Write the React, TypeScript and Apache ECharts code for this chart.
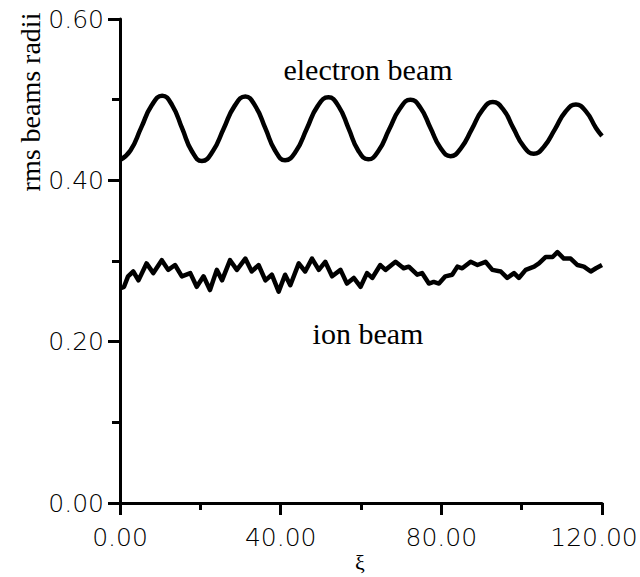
import React, { useEffect, useRef } from "react";
import * as echarts from "echarts";

// electron beam rms radius
const elecX = [0, 2.6, 5.25, 7.9, 10.5, 13.0, 15.5, 17.9, 20.4, 23.1, 25.8, 28.5, 31.2, 33.7, 36.2, 38.6, 41.1, 43.8, 46.5, 49.2, 51.9, 54.4, 56.9, 59.3, 61.8, 64.4, 67.0, 69.7, 72.3, 74.8, 77.3, 79.8, 82.3, 84.9, 87.6, 90.2, 92.8, 95.4, 97.9, 100.5, 103.0, 105.6, 108.3, 110.9, 113.5, 116.0, 118.5, 120];
const elecY = [0.425, 0.437, 0.465, 0.493, 0.505, 0.493, 0.464, 0.436, 0.424, 0.436, 0.464, 0.492, 0.504, 0.492, 0.4645, 0.437, 0.425, 0.436, 0.464, 0.492, 0.503, 0.492, 0.4645, 0.437, 0.426, 0.437, 0.463, 0.489, 0.5, 0.49, 0.465, 0.44, 0.43, 0.44, 0.4635, 0.487, 0.497, 0.488, 0.465, 0.442, 0.433, 0.442, 0.4635, 0.485, 0.494, 0.4855, 0.465, 0.455];

// ion beam rms radius
const ionX = [0, 1.0, 2.0, 3.3, 4.6, 6.6, 8.3, 10.4, 12.0, 13.7, 15.4, 17.5, 19.1, 20.8, 22.4, 24.1, 25.4, 27.4, 29.1, 31.2, 32.8, 34.5, 36.2, 37.8, 39.5, 41.1, 42.4, 44.5, 46.1, 47.8, 49.5, 51.1, 52.8, 54.9, 56.5, 58.2, 59.9, 61.5, 62.8, 64.8, 66.1, 68.6, 70.6, 71.9, 74.0, 75.2, 76.9, 78.1, 79.4, 81.0, 82.7, 84.0, 85.2, 87.3, 89.0, 91.0, 92.7, 94.8, 96.4, 98.1, 99.3, 101.0, 103.1, 104.3, 106.0, 107.7, 108.9, 110.5, 112.2, 113.9, 115.5, 117.2, 118.5, 120.0];
const ionY = [0.266, 0.268, 0.281, 0.287, 0.276, 0.297, 0.285, 0.301, 0.289, 0.295, 0.281, 0.285, 0.268, 0.281, 0.264, 0.289, 0.276, 0.301, 0.289, 0.303, 0.287, 0.295, 0.276, 0.283, 0.262, 0.283, 0.27, 0.297, 0.287, 0.303, 0.289, 0.299, 0.281, 0.289, 0.272, 0.279, 0.268, 0.285, 0.279, 0.295, 0.289, 0.299, 0.291, 0.293, 0.283, 0.285, 0.272, 0.274, 0.272, 0.281, 0.283, 0.293, 0.291, 0.299, 0.295, 0.299, 0.289, 0.287, 0.279, 0.285, 0.279, 0.289, 0.293, 0.297, 0.305, 0.305, 0.311, 0.303, 0.303, 0.295, 0.293, 0.287, 0.291, 0.295];

const xMin = 0;
const xMax = 120;
const xTickInterval = 40;
const yTickInterval = 0.2;
const yAxisTitle = "rms beams radii";
const xAxisTitle = "ξ";
const electronLabel = "electron beam";
const ionLabel = "ion beam";

export default function App() {
  const ref = useRef<HTMLDivElement>(null);
  useEffect(() => {
    if (!ref.current) return;
    const chart = echarts.init(ref.current, null, { renderer: "svg" });
    const tickFont = {
      fontFamily: "DejaVu Sans",
      fontSize: 25,
      fontWeight: 200 as any,
      color: "#000",
    };
    const serif = "Liberation Serif";
    chart.setOption({
      animation: false,
      backgroundColor: "#fff",
      grid: { left: 120, right: 38, top: 19, bottom: 74, outerBoundsMode: "none", containLabel: false },
      xAxis: {
        type: "value",
        min: xMin,
        max: xMax,
        interval: xTickInterval,
        axisLine: { lineStyle: { color: "#000", width: 3 } },
        axisTick: { inside: false, length: 12, lineStyle: { color: "#000", width: 3 } },
        minorTick: { show: true, splitNumber: 2, length: 7, lineStyle: { color: "#000", width: 3 } },
        splitLine: { show: false },
        axisLabel: {
          ...tickFont,
          margin: 22,
          formatter: (v: number) => (v === xMax ? `{last|${v.toFixed(2)}}` : v.toFixed(2)),
          rich: { last: { ...tickFont, padding: [0, 16, 0, 0] } },
        },
      },
      yAxis: {
        type: "value",
        min: 0,
        max: 0.6,
        interval: yTickInterval,
        axisLine: { show: true, lineStyle: { color: "#000", width: 3 } },
        axisTick: { show: true, inside: false, length: 12, lineStyle: { color: "#000", width: 3 } },
        minorTick: { show: true, splitNumber: 2, length: 8, lineStyle: { color: "#000", width: 3 } },
        splitLine: { show: false },
        axisLabel: { ...tickFont, margin: 16, formatter: (v: number) => v.toFixed(2) },
      },
      series: [
        {
          type: "line",
          name: electronLabel,
          data: elecX.map((x, i) => [x, elecY[i]]),
          showSymbol: false,
          symbol: "none",
          smooth: true,
          lineStyle: { color: "#000", width: 4.5 },
        },
        {
          type: "line",
          name: ionLabel,
          data: ionX.map((x, i) => [x, ionY[i]]),
          showSymbol: false,
          symbol: "none",
          smooth: false,
          lineStyle: { color: "#000", width: 4.5, join: "round" },
        },
      ],
      graphic: [
        {
          type: "text",
          x: 30,
          y: 102,
          rotation: Math.PI / 2,
          style: { text: yAxisTitle, font: `28px "${serif}"`, fill: "#000", align: "center", verticalAlign: "middle" },
        },
        {
          type: "text",
          x: 368,
          y: 69,
          style: { text: electronLabel, font: `30px "${serif}"`, fill: "#000", align: "center", verticalAlign: "middle" },
        },
        {
          type: "text",
          x: 368,
          y: 333,
          style: { text: ionLabel, font: `30px "${serif}"`, fill: "#000", align: "center", verticalAlign: "middle" },
        },
        {
          type: "text",
          x: 360,
          y: 562,
          style: { text: xAxisTitle, font: `22px "${serif}"`, fill: "#000", align: "center", verticalAlign: "middle" },
        },
      ],
    });
    return () => chart.dispose();
  }, []);
  return (
    <div
      ref={ref}
      style={{ position: "absolute", left: 0, top: 0, width: 640, height: 577 }}
    />
  );
}
